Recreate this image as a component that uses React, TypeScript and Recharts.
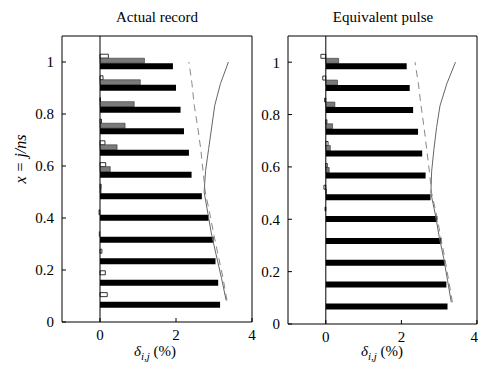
import React from "react";
import { ComposedChart, Bar, Line, XAxis, YAxis, ReferenceLine } from "recharts";

// story levels x = j/ns, j = 1..12 (bottom to top)
const levels = [0.083, 0.167, 0.25, 0.333, 0.417, 0.5, 0.583, 0.667, 0.75, 0.833, 0.917, 1];

// Actual record
const actualWhite = [0.19, 0.14, 0.05, 0, 0, 0.03, 0.15, 0.13, 0.04, 0.01, 0.08, 0.22];
const actualGray = [0, 0, 0, -0.02, -0.03, 0.03, 0.27, 0.45, 0.66, 0.9, 1.06, 1.17];
const actualBlack = [3.16, 3.11, 3.04, 2.99, 2.86, 2.68, 2.41, 2.34, 2.21, 2.12, 2.0, 1.92];
const actualSolid = [3.32, 3.2, 3.07, 2.94, 2.84, 2.74, 2.78, 2.86, 2.94, 3.02, 3.17, 3.38];
const actualDashed = [3.34, 3.24, 3.12, 3.0, 2.89, 2.77, 2.71, 2.65, 2.57, 2.48, 2.42, 2.34];

// Equivalent pulse
const pulseWhite = [0, 0, 0, 0, -0.02, -0.05, 0.04, 0.06, 0.03, -0.03, -0.08, -0.13];
const pulseGray = [0, 0, 0, 0, 0, 0.02, 0.09, 0.12, 0.18, 0.24, 0.31, 0.34];
const pulseBlack = [3.22, 3.19, 3.15, 3.06, 2.95, 2.77, 2.64, 2.55, 2.44, 2.31, 2.22, 2.14];
const pulseSolid = [3.32, 3.22, 3.12, 3.0, 2.9, 2.78, 2.8, 2.86, 2.93, 3.02, 3.2, 3.43];
const pulseDashed = [3.35, 3.25, 3.15, 3.04, 2.93, 2.8, 2.74, 2.67, 2.6, 2.52, 2.45, 2.36];

const xTicks = [0, 2, 4];
const yTicks = [0, 0.2, 0.4, 0.6, 0.8, 1];

const font = "'Liberation Serif', 'DejaVu Serif', serif";
const tickStyle = { fontSize: 15, fill: "#000", fontFamily: font };

function buildRows(white: number[], gray: number[], black: number[], solid: number[], dashed: number[]) {
  return levels.map((y, i) => ({
    y,
    white: white[i],
    gray: gray[i],
    black: black[i],
    solid: solid[i],
    dashed: dashed[i],
  }));
}

function Panel({ rows, width, margin }: { rows: any[]; width: number; margin: any }) {
  return (
    <ComposedChart
      layout="vertical"
      width={width}
      height={370}
      data={rows}
      margin={margin}
      barGap={0}
    >
      <XAxis
        type="number"
        domain={[-1, 4]}
        ticks={xTicks}
        allowDataOverflow
        height={30}
        tickSize={-4}
        tickMargin={11}
        tick={tickStyle}
        axisLine={{ stroke: "#000" }}
        tickLine={{ stroke: "#000" }}
      />
      <XAxis
        xAxisId="top"
        orientation="top"
        type="number"
        domain={[-1, 4]}
        ticks={xTicks}
        allowDataOverflow
        mirror
        tick={false}
        tickSize={4}
        axisLine={{ stroke: "#000" }}
        tickLine={{ stroke: "#000" }}
      />
      <YAxis
        type="number"
        dataKey="y"
        domain={[0, 1.1]}
        ticks={yTicks}
        reversed
        allowDataOverflow
        width={60}
        tickSize={-4}
        tickMargin={12}
        tick={tickStyle}
        axisLine={{ stroke: "#000" }}
        tickLine={{ stroke: "#000" }}
      />
      <YAxis
        yAxisId="right"
        orientation="right"
        type="number"
        domain={[0, 1.1]}
        ticks={yTicks}
        reversed
        allowDataOverflow
        mirror
        tick={false}
        tickSize={4}
        axisLine={{ stroke: "#000" }}
        tickLine={{ stroke: "#000" }}
      />
      <ReferenceLine x={0} stroke="#000" strokeWidth={1} />
      <Bar dataKey="white" barSize={4} fill="#fff" stroke="#000" strokeWidth={0.8} isAnimationActive={false} />
      <Bar dataKey="gray" barSize={5} fill="#7a7a7a" stroke="#333" strokeWidth={0.6} isAnimationActive={false} />
      <Bar dataKey="black" barSize={6} fill="#000" isAnimationActive={false} />
      <Line dataKey="solid" stroke="#666" strokeWidth={1} dot={false} isAnimationActive={false} />
      <Line dataKey="dashed" stroke="#888" strokeWidth={1} strokeDasharray="7 5" dot={false} isAnimationActive={false} />
    </ComposedChart>
  );
}

const xLabel = (
  <span>
    <i>δ</i>
    <sub style={{ fontSize: 11 }}>
      <i>i,j</i>
    </sub>
    {"\u00a0"}(%)
  </span>
);

export default function App() {
  const left = buildRows(actualWhite, actualGray, actualBlack, actualSolid, actualDashed);
  const right = buildRows(pulseWhite, pulseGray, pulseBlack, pulseSolid, pulseDashed);
  const abs = (l: number, t: number): React.CSSProperties => ({
    position: "absolute",
    left: l,
    top: t,
  });
  const textBox = (cx: number, t: number): React.CSSProperties => ({
    position: "absolute",
    left: cx - 80,
    top: t,
    width: 160,
    textAlign: "center",
    fontFamily: font,
    fontSize: 15,
    color: "#000",
    whiteSpace: "nowrap",
  });
  return (
    <div style={{ position: "absolute", left: 0, top: 0, width: 478, height: 370, background: "#fff", overflow: "hidden" }}>
      <div style={abs(0, 0)}>
        <Panel rows={left} width={260} margin={{ top: 36, right: 8, bottom: 18, left: 2 }} />
      </div>
      <div style={abs(228, 0)}>
        <Panel rows={right} width={250} margin={{ top: 36, right: 1, bottom: 16, left: 0 }} />
      </div>
      <div style={textBox(157, 9)}>Actual record</div>
      <div style={textBox(383, 9)}>Equivalent pulse</div>
      <div style={textBox(155, 343)}>{xLabel}</div>
      <div style={textBox(382, 343)}>{xLabel}</div>
      <div
        style={{
          position: "absolute",
          left: -29,
          top: 150,
          width: 100,
          textAlign: "center",
          fontFamily: font,
          fontSize: 16,
          fontStyle: "italic",
          transform: "rotate(-90deg)",
          whiteSpace: "nowrap",
        }}
      >
        x = j/ns
      </div>
    </div>
  );
}
